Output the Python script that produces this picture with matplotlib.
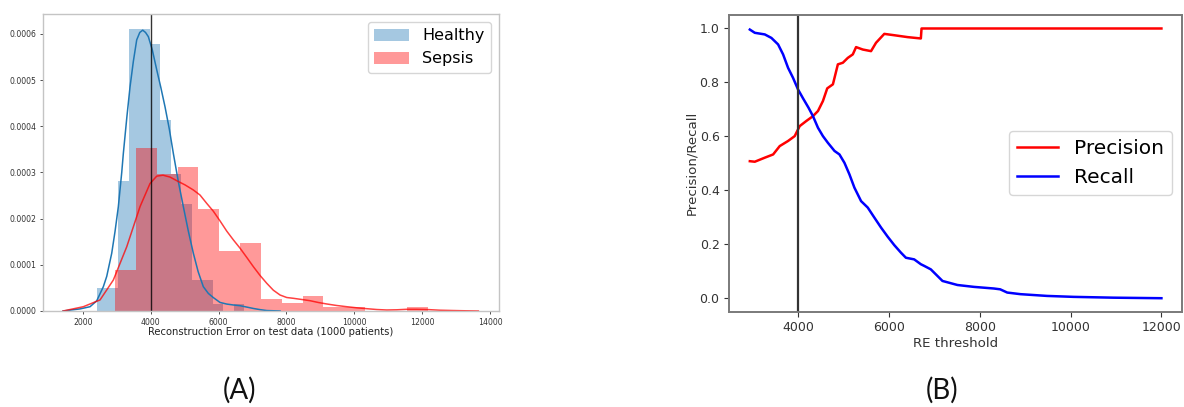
import matplotlib
matplotlib.use("Agg")
import matplotlib.pyplot as plt
from matplotlib.patches import Patch

# ---------------- data ----------------
healthy_edges = [2430, 2739, 3048, 3357, 3666, 3975, 4284, 4593, 4902, 5211,
                 5520, 5829, 6138, 6447, 6756]
healthy_density = [0.000049, 0.000049, 0.000281, 0.000611, 0.000611, 0.000579,
                   0.000413, 0.000296, 0.000231, 0.000067, 0.000067, 0.000015,
                   0.0, 0.000015]

sepsis_edges = [2951, 3565, 4179, 4793, 5407, 6021, 6635, 7249, 7863, 8477,
                9091, 9705, 10319, 10933, 11547, 12161]
sepsis_density = [0.0000887, 0.000352, 0.000296, 0.000312, 0.000221, 0.000130,
                  0.000148, 0.000026, 0.000017, 0.000033, 0.0000093, 0.0000093,
                  0.0, 0.0, 0.000008]

healthy_kde_x = [1420, 1920, 2215, 2412, 2607, 2707, 2854, 2951, 3049, 3149,
                 3196, 3300, 3393, 3490, 3590, 3680, 3767, 3850, 3932, 4050,
                 4180, 4300, 4424, 4550, 4669, 4816, 4963, 5110, 5258, 5400,
                 5552, 5700, 5847, 6044, 6242, 6440, 6633, 6830, 7025, 7220,
                 7420, 7812]
healthy_kde_y = [0.0, 0.0000045, 0.0000093, 0.000022, 0.0000526, 0.000075,
                 0.000125, 0.000172, 0.000226, 0.000300, 0.000341, 0.000420,
                 0.000485, 0.000540, 0.000587, 0.000603, 0.000608, 0.000603,
                 0.000594, 0.000565, 0.000522, 0.000484, 0.000442, 0.000394,
                 0.000341, 0.000280, 0.000226, 0.000173, 0.000125, 0.000085,
                 0.0000526, 0.000038, 0.000029, 0.0000185, 0.0000150,
                 0.0000130, 0.0000115, 0.0000085, 0.0000055, 0.000003,
                 0.000001, 0.0]

sepsis_kde_x = [1420, 2018, 2510, 2901, 3296, 3688, 3982, 4180, 4365, 4571,
                4798, 5013, 5258, 5455, 5652, 5847, 6044, 6241, 6436, 6633,
                6831, 7025, 7222, 7420, 7614, 7812, 8009, 8203, 8451, 8695,
                8940, 9187, 9482, 9776, 10071, 10365, 10660, 10954, 11249,
                11543, 11838, 12133, 12524, 12916, 13311, 13652]
sepsis_kde_y = [0.0, 0.0000093, 0.000024, 0.000067, 0.000139, 0.000226,
                0.000276, 0.000292, 0.000294, 0.00029, 0.000281, 0.000273,
                0.000262, 0.000251, 0.000233, 0.000216, 0.000195, 0.000173,
                0.000154, 0.000136, 0.000116, 0.000096, 0.000077, 0.00006,
                0.000045, 0.0000346, 0.0000292, 0.0000275, 0.0000249,
                0.0000223, 0.0000184, 0.0000152, 0.0000119, 0.0000093,
                0.0000069, 0.000005, 0.0000032, 0.0000022, 0.0000026,
                0.0000037, 0.0000037, 0.0000032, 0.0000017, 0.000001,
                0.0000004, 0.0]

threshold = 4000

precision_x = [2939, 3048, 3268, 3452, 3597, 3781, 3927, 4036, 4182, 4329,
               4439, 4548, 4643, 4768, 4877, 4987, 5096, 5206, 5278, 5425,
               5607, 5717, 5899, 6118, 6412, 6704, 6719, 12000]
precision_y = [0.508, 0.506, 0.521, 0.533, 0.564, 0.583, 0.601, 0.638, 0.657,
               0.675, 0.694, 0.731, 0.778, 0.793, 0.867, 0.873, 0.891, 0.904,
               0.931, 0.922, 0.916, 0.947, 0.98, 0.975, 0.968, 0.963, 1.0, 1.0]

recall_x = [2939, 3048, 3268, 3414, 3561, 3671, 3781, 3890, 4000, 4110, 4232,
            4329, 4439, 4548, 4658, 4803, 4912, 5022, 5132, 5241, 5388, 5535,
            5680, 5827, 5974, 6118, 6265, 6375, 6557, 6704, 6776, 6923, 7180,
            7509, 7873, 8311, 8450, 8605, 8897, 9482, 10066, 10943, 12000]
recall_y = [0.996, 0.984, 0.978, 0.965, 0.941, 0.904, 0.854, 0.817, 0.774,
            0.741, 0.706, 0.675, 0.632, 0.601, 0.576, 0.546, 0.533, 0.502,
            0.459, 0.410, 0.360, 0.336, 0.299, 0.262, 0.228, 0.197, 0.169,
            0.150, 0.144, 0.126, 0.12, 0.107, 0.064, 0.049, 0.042, 0.036,
            0.033, 0.021, 0.015, 0.0085, 0.005, 0.002, 0.0]

# ---------------- figure ----------------
fig = plt.figure(figsize=(11.84, 4.07), dpi=100)

blue = "#1f77b4"
red = "red"

# ----- panel A -----
axA = fig.add_axes([43 / 1184, 96 / 407, 456 / 1184, 297 / 407])
axA.bar(healthy_edges[:-1], healthy_density,
        width=[b - a for a, b in zip(healthy_edges[:-1], healthy_edges[1:])],
        align="edge", color=blue, alpha=0.4, linewidth=0)
axA.bar(sepsis_edges[:-1], sepsis_density,
        width=[b - a for a, b in zip(sepsis_edges[:-1], sepsis_edges[1:])],
        align="edge", color=red, alpha=0.4, linewidth=0)
axA.plot(healthy_kde_x, healthy_kde_y, color=blue, lw=1.1)
axA.plot(sepsis_kde_x, sepsis_kde_y, color=red, lw=1.1, alpha=0.75)
axA.axvline(threshold, color="black", lw=1.0, alpha=0.8)
axA.set_xlim(830, 14260)
axA.set_ylim(0, 0.000643)
axA.set_xticks([2000, 4000, 6000, 8000, 10000, 12000, 14000])
axA.set_yticks([0.0, 0.0001, 0.0002, 0.0003, 0.0004, 0.0005, 0.0006])
axA.set_yticklabels(["0.0000", "0.0001", "0.0002", "0.0003", "0.0004",
                     "0.0005", "0.0006"])
axA.tick_params(labelsize=5.6, colors="#333333", length=2.5, width=0.6, pad=2.5)
for s in axA.spines.values():
    s.set_color("#c4c4c4")
    s.set_linewidth(1.0)
axA.set_xlabel("Reconstruction Error on test data (1000 patients)",
               fontsize=7.2, color="#222222", labelpad=0)
handles = [Patch(facecolor=blue, alpha=0.4, label="Healthy"),
           Patch(facecolor=red, alpha=0.4, label="Sepsis")]
axA.legend(handles=handles, loc="upper right", fontsize=11.5,
           handlelength=2.2, handleheight=0.8)

# ----- panel B -----
axB = fig.add_axes([729.3 / 1184, 95.3 / 407, 452.7 / 1184, 296.7 / 407])
axB.plot(precision_x, precision_y, color="red", lw=1.8, label="Precision")
axB.plot(recall_x, recall_y, color="blue", lw=1.8, label="Recall")
axB.axvline(threshold, color="#333333", lw=1.6)
axB.set_xlim(2487, 12453)
axB.set_ylim(-0.05, 1.05)
axB.set_xticks([4000, 6000, 8000, 10000, 12000])
axB.set_yticks([0.0, 0.2, 0.4, 0.6, 0.8, 1.0])
axB.tick_params(labelsize=9, colors="#333333", length=3.5, width=0.8)
for s in axB.spines.values():
    s.set_color("#7a7a7a")
    s.set_linewidth(1.4)
axB.set_xlabel("RE threshold", fontsize=9.6, color="#333333", labelpad=2)
axB.set_ylabel("Precision/Recall", fontsize=9.6, color="#333333", labelpad=1)
axB.legend(loc="center right", fontsize=14.5, handlelength=2.0)

# ----- panel letters -----
fig.text(240 / 1184, 16.5 / 407, "(A)", fontsize=20, family="Lato",
         ha="center", va="center", color="#111111")
fig.text(942 / 1184, 16.5 / 407, "(B)", fontsize=20, family="Lato",
         ha="center", va="center", color="#111111")

fig.savefig("out.png", dpi=100)
